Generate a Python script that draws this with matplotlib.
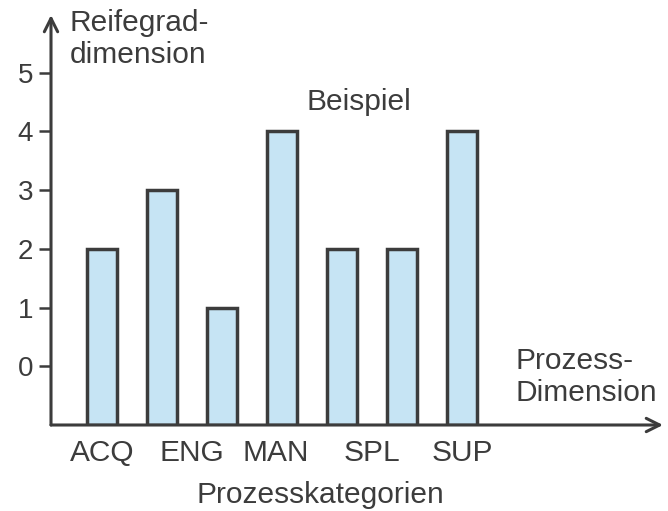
import numpy as np
from matplotlib import pyplot as plt

# Reifegrad je Prozess (7 Balken, nur 5 beschriftet)
values = [2, 3, 1, 4, 2, 2, 4]
cat_labels = ['ACQ', 'ENG', 'MAN', 'SPL', 'SUP']
cat_pos = [0, 1.5, 2.9, 4.5, 6]
y_ticks = [0, 1, 2, 3, 4, 5]

ink = '#3c3c3c'
fs = 21.5
plt.rcParams['font.family'] = ['Liberation Sans', 'DejaVu Sans']

fig = plt.figure(figsize=(6.68, 5.11), dpi=100)
ax = fig.add_axes([51/668, 86/511, 612/668, 410/511])

x = np.arange(len(values))
base = -1
ax.bar(x, np.array(values) - base, bottom=base, width=0.49,
       color='#c6e4f4', edgecolor=ink, linewidth=2.5, zorder=2)

ax.set_xlim(-0.85, 9.35)
ax.set_ylim(base, 5.98)

for s in ['top', 'right', 'left', 'bottom']:
    ax.spines[s].set_visible(False)

# axes with arrow heads
for tip in [(1, 0), (0, 1)]:
    ax.annotate('', xy=tip, xycoords='axes fraction', xytext=(0, 0),
                arrowprops=dict(arrowstyle='->', color=ink, lw=2.2,
                                mutation_scale=24, shrinkA=0, shrinkB=0))

ax.set_yticks(y_ticks)
ax.tick_params(axis='y', length=9, width=1.8, color=ink, pad=4,
               labelsize=20, labelcolor=ink)
ax.set_xticks(cat_pos)
ax.set_xticklabels(cat_labels)
ax.tick_params(axis='x', length=0, pad=10, labelsize=fs, labelcolor=ink)

fig.text(320/668, 1 - 495/511, 'Prozesskategorien', fontsize=fs,
         color=ink, ha='center', va='center')
fig.text(70/668, 1 - 9/511, 'Reifegrad-\ndimension', fontsize=fs,
         color=ink, ha='left', va='top', linespacing=1.2)
fig.text(359/668, 1 - 102/511, 'Beispiel', fontsize=fs,
         color=ink, ha='center', va='center')
fig.text(516/668, 1 - 347/511, 'Prozess-\nDimension', fontsize=fs,
         color=ink, ha='left', va='top', linespacing=1.2)

fig.savefig('out.png', dpi=100)
